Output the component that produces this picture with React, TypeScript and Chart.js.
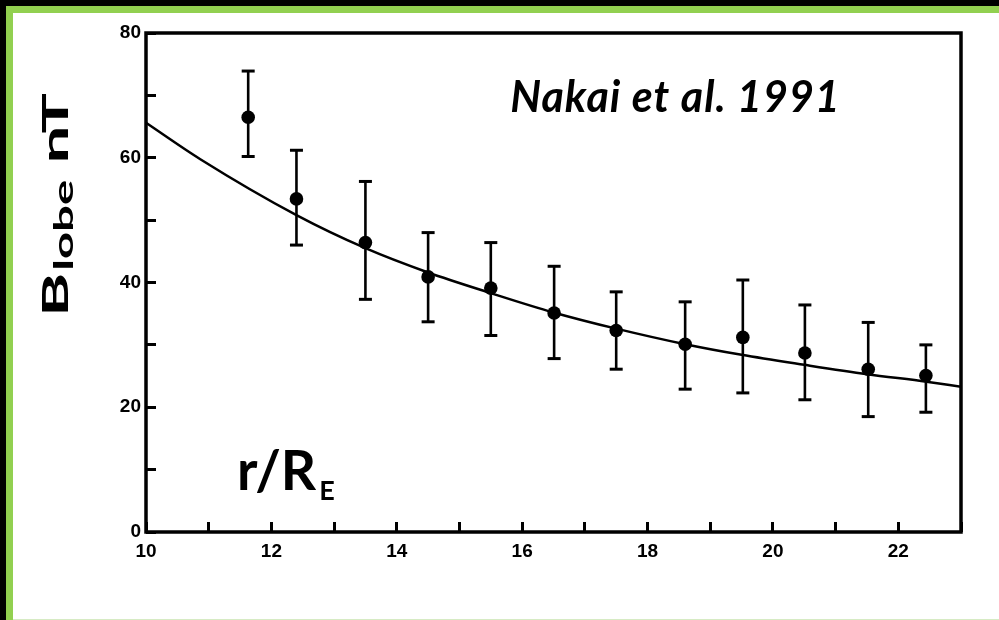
import React, { useEffect, useRef } from "react";
import { Chart, registerables } from "chart.js";

Chart.register(...registerables);

// Binned lobe field strength (nT) against radial distance (Earth radii)
const binR = [11.63, 12.4, 13.5, 14.5, 15.5, 16.51, 17.5, 18.6, 19.52, 20.51, 21.52, 22.44];
const binB = [66.5, 53.4, 46.4, 40.9, 39.1, 35.1, 32.3, 30.1, 31.2, 28.7, 26.1, 25.1];
const binLow = [60.2, 46.0, 37.3, 33.7, 31.5, 27.8, 26.1, 22.9, 22.3, 21.2, 18.5, 19.2];
const binHigh = [73.9, 61.2, 56.2, 48.0, 46.4, 42.6, 38.5, 36.9, 40.4, 36.4, 33.6, 30.0];

// Fitted curve through the bins
const fitR = [10, 10.86, 12.4, 13.5, 14.5, 15.5, 16.5, 17.5, 18.6, 19.5, 20.5, 21.5, 22.45, 23];
const fitB = [65.6, 59.8, 50.8, 45.5, 41.6, 38.3, 35.2, 32.6, 30.1, 28.4, 26.8, 25.3, 24.1, 23.3];

const xTickLabels = [10, 12, 14, 16, 18, 20, 22];
const yTickLabels = [0, 20, 40, 60, 80];

const GREEN = "#92d050";

// Closed black frame around the plotting area
const framePlugin = {
  id: "frame",
  afterDatasetsDraw(chart: any) {
    const { ctx, chartArea: a } = chart;
    ctx.save();
    ctx.strokeStyle = "#000";
    ctx.lineWidth = 3.5;
    ctx.strokeRect(a.left, a.top, a.right - a.left, a.bottom - a.top);
    ctx.restore();
  },
};

// Axis titles and the citation
const labelsPlugin = {
  id: "labels",
  afterDraw(chart: any) {
    const { ctx } = chart;
    const xs = chart.scales.x;
    const ys = chart.scales.y;
    ctx.save();
    ctx.fillStyle = "#000";
    ctx.textBaseline = "alphabetic";
    ctx.textAlign = "left";

    // citation inside the plot
    ctx.font = "italic bold 43px Lato";
    (ctx as any).letterSpacing = "1px";
    ctx.fillText("Nakai et al. 1991", xs.getPixelForValue(15.81), ys.getPixelForValue(67.3));
    (ctx as any).letterSpacing = "0px";

    // x title: r/R_E
    const rx = xs.getPixelForValue(11.45);
    const ry = ys.getPixelForValue(6.7);
    ctx.font = "bold 55px Lato";
    ctx.fillText("r/R", rx, ry);
    const rw = ctx.measureText("r/R").width;
    ctx.font = "bold 27px Lato";
    ctx.fillText("E", rx + rw + 3, ry + 10);

    // y title: B_lobe nT, rotated
    ctx.translate(68, 317);
    ctx.rotate(-Math.PI / 2);
    ctx.scale(1.82, 1);
    ctx.font = "bold 37px Lato";
    ctx.fillText("B", 0, 0);
    let w = ctx.measureText("B").width;
    ctx.font = "bold 26px Lato";
    ctx.fillText("lobe", w + 1, 5);
    w += ctx.measureText("lobe").width + 1;
    ctx.font = "bold 37px Lato";
    ctx.fillText(" nT", w, 0);
    ctx.restore();
  },
};

function LobeFieldChart() {
  const canvasRef = useRef<HTMLCanvasElement | null>(null);

  useEffect(() => {
    const canvas = canvasRef.current;
    if (!canvas) return;

    const points = binR.map((r, i) => ({ x: r, y: binB[i] }));
    const bars: { x: number; y: number | null }[] = [];
    binR.forEach((r, i) => {
      bars.push({ x: r, y: binLow[i] });
      bars.push({ x: r, y: binHigh[i] });
      bars.push({ x: r, y: null });
    });
    const fit = fitR.map((r, i) => ({ x: r, y: fitB[i] }));

    const tickFont = { family: "'Liberation Sans', Arial, sans-serif", size: 19, weight: "bold" as const };

    const chart = new Chart(canvas, {
      type: "scatter",
      data: {
        datasets: [
          {
            label: "bins",
            data: points,
            showLine: false,
            pointRadius: 6.8,
            pointBackgroundColor: "#000",
            pointBorderColor: "#000",
            pointBorderWidth: 0,
          },
          {
            label: "spread",
            data: bars as any,
            showLine: true,
            spanGaps: false,
            borderColor: "#000",
            borderWidth: 2.6,
            pointStyle: "line",
            pointRadius: 6.5,
            pointBorderWidth: 3,
            pointBorderColor: "#000",
            pointBackgroundColor: "#000",
          },
          {
            label: "fit",
            data: fit,
            showLine: true,
            borderColor: "#000",
            borderWidth: 2.5,
            pointRadius: 0,
            cubicInterpolationMode: "monotone",
          },
        ],
      },
      options: {
        animation: false,
        responsive: false,
        maintainAspectRatio: false,
        events: [],
        layout: { padding: { left: 0, top: 33, right: 38, bottom: 0 } },
        plugins: {
          legend: { display: false },
          tooltip: { enabled: false },
        },
        scales: {
          x: {
            type: "linear",
            min: 10,
            max: 23,
            afterFit: (s: any) => {
              s.height = 88;
            },
            border: { display: false },
            grid: {
              drawOnChartArea: false,
              drawTicks: true,
              tickLength: -10,
              tickWidth: 3,
              tickColor: "#000",
            },
            ticks: {
              stepSize: 1,
              autoSkip: false,
              maxRotation: 0,
              padding: 18,
              color: "#000",
              font: tickFont,
              callback: (v: any) => (xTickLabels.includes(Number(v)) ? String(v) : ""),
            },
          },
          y: {
            type: "linear",
            min: 0,
            max: 80,
            afterFit: (s: any) => {
              s.width = 146;
            },
            border: { display: false },
            grid: {
              drawOnChartArea: false,
              drawTicks: true,
              tickLength: -10,
              tickWidth: 3,
              tickColor: "#000",
            },
            ticks: {
              stepSize: 10,
              autoSkip: false,
              padding: 15,
              color: "#000",
              font: tickFont,
              callback: (v: any) => (yTickLabels.includes(Number(v)) ? String(v) : ""),
            },
          },
        },
      },
      plugins: [framePlugin, labelsPlugin],
    });

    return () => chart.destroy();
  }, []);

  return (
    <canvas
      ref={canvasRef}
      width={999}
      height={620}
      style={{ position: "absolute", left: 0, top: 0, width: 999, height: 620 }}
    />
  );
}

export default function App() {
  useEffect(() => {
    document.documentElement.style.background = "#fff";
    document.body.style.background = "#fff";
    document.body.style.margin = "0";
  }, []);

  return (
    <div
      style={{
        position: "fixed",
        left: 0,
        top: 0,
        width: "100vw",
        height: "100vh",
        minWidth: 999,
        minHeight: 620,
        background: "#fff",
        overflow: "hidden",
      }}
    >
      {/* dark strips along the top and left edges */}
      <div style={{ position: "absolute", left: 0, top: 0, width: "100%", height: 6, background: "#000" }} />
      <div style={{ position: "absolute", left: 0, top: 0, width: 6, height: "100%", background: "#000" }} />
      {/* green frame bands */}
      <div style={{ position: "absolute", left: 6, top: 6, right: 0, height: 7, background: GREEN }} />
      <div style={{ position: "absolute", left: 6, top: 6, width: 7, bottom: 0, background: GREEN }} />
      <div style={{ position: "absolute", left: 13, top: 619, right: 0, height: 1, background: "#d6ebc4" }} />
      <LobeFieldChart />
    </div>
  );
}
